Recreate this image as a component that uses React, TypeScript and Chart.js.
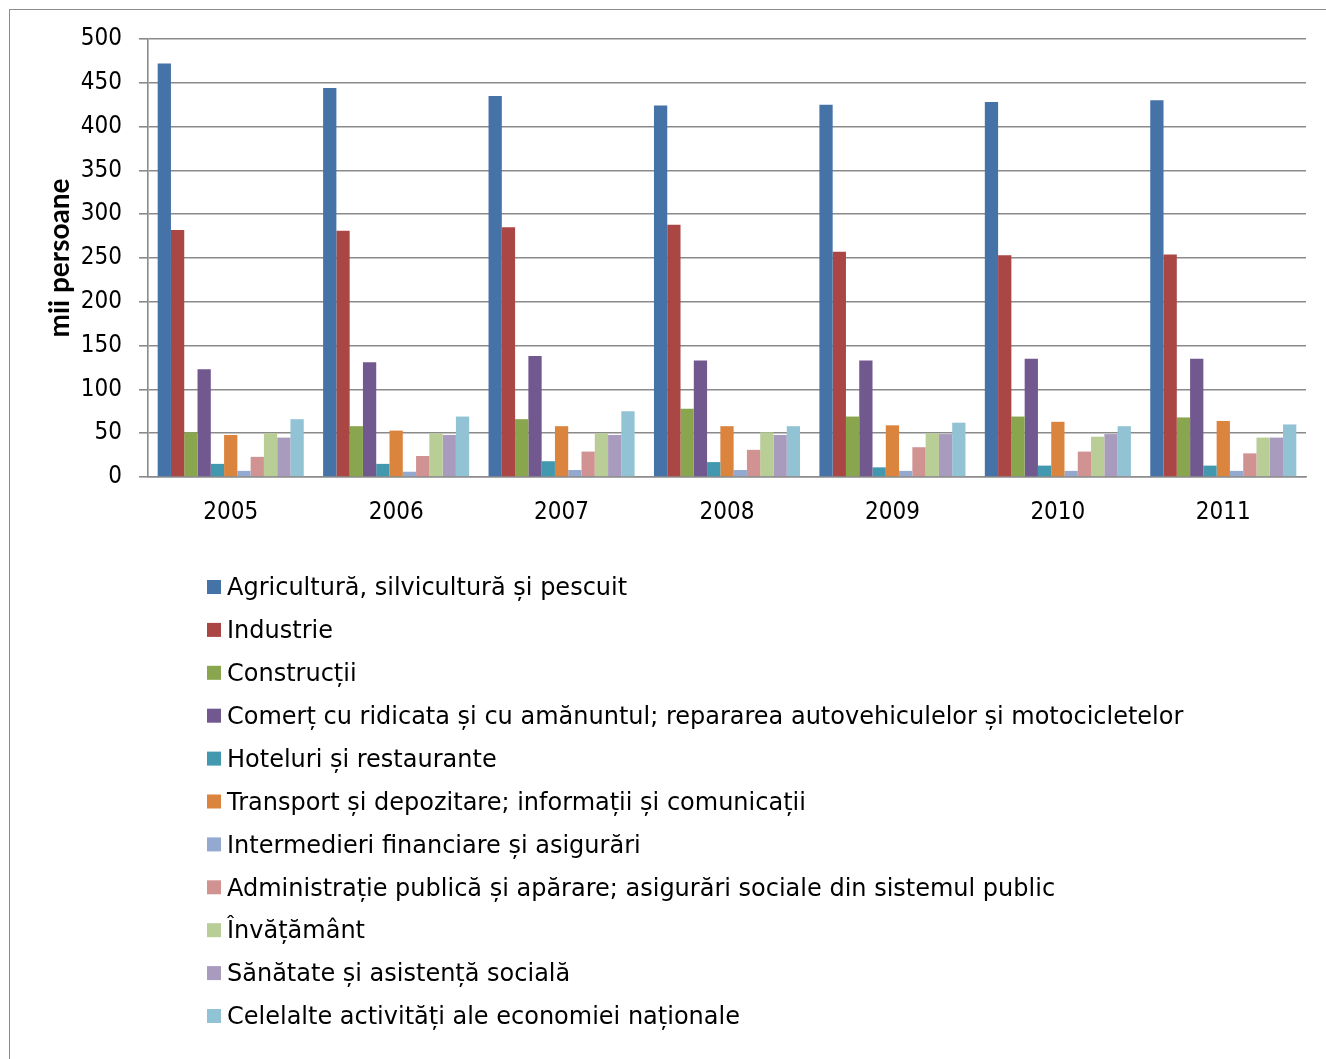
import React, { useEffect, useRef } from "react";
import { Chart, registerables } from "chart.js";

Chart.register(...registerables);

const years = ["2005", "2006", "2007", "2008", "2009", "2010", "2011"];

const seriesNames = [
  "Agricultură, silvicultură și pescuit",
  "Industrie",
  "Construcții",
  "Comerț cu ridicata și cu amănuntul; repararea autovehiculelor și motocicletelor",
  "Hoteluri și restaurante",
  "Transport și depozitare; informații și comunicații",
  "Intermedieri financiare și asigurări",
  "Administrație publică și apărare; asigurări sociale din sistemul public",
  "Învățământ",
  "Sănătate și asistență socială",
  "Celelalte activități ale economiei naționale",
];

const agricultura = [472, 444, 435, 424, 425, 428, 430];
const industrie = [282, 281, 285, 288, 257, 253, 254];
const constructii = [51, 58, 66, 78, 69, 69, 68];
const comert = [123, 131, 138, 133, 133, 135, 135];
const hoteluri = [15, 15, 18, 17, 11, 13, 13];
const transport = [48, 53, 58, 58, 59, 63, 64];
const financiare = [7, 6, 8, 8, 7, 7, 7];
const administratie = [23, 24, 29, 31, 34, 29, 27];
const invatamant = [50, 50, 50, 51, 50, 46, 45];
const sanatate = [45, 48, 48, 48, 49, 49, 45];
const celelalte = [66, 69, 75, 58, 62, 58, 60];

const seriesValues = [
  agricultura, industrie, constructii, comert, hoteluri, transport,
  financiare, administratie, invatamant, sanatate, celelalte,
];

const colors = [
  "#4573A7", "#AA4643", "#89A54E", "#71588F", "#4198AF", "#DB843D",
  "#93A9CF", "#D19392", "#B9CD96", "#A99BBD", "#92C3D4",
];

const yTitle = "mii persoane";
const TICK_FONT = "'DejaVu Sans Condensed', 'DejaVu Sans', sans-serif";
const LEGEND_FONT = "'DejaVu Sans', sans-serif";

const legendPlugin = {
  id: "listLegend",
  afterDraw(chart: any) {
    const ctx = chart.ctx;
    ctx.save();
    ctx.font = `24px ${LEGEND_FONT}`;
    ctx.textBaseline = "middle";
    ctx.textAlign = "left";
    chart.data.datasets.forEach((ds: any, i: number) => {
      const yc = 587 + i * 42.9;
      ctx.fillStyle = ds.backgroundColor;
      ctx.fillRect(207, yc - 7, 14, 14);
      ctx.fillStyle = "#000";
      ctx.fillText(ds.label, 227, yc + 2);
    });
    ctx.restore();
  },
};

export default function App() {
  const ref = useRef<HTMLCanvasElement>(null);
  useEffect(() => {
    if (!ref.current) return;
    const chart = new Chart(ref.current, {
      type: "bar",
      data: {
        labels: years,
        datasets: seriesNames.map((name, i) => ({
          label: name,
          data: seriesValues[i],
          backgroundColor: colors[i],
          borderWidth: 0,
          barPercentage: 1,
          categoryPercentage: 0.883,
        })),
      },
      options: {
        animation: false,
        responsive: true,
        maintainAspectRatio: false,
        layout: { padding: { left: 0, right: 20, top: 39, bottom: 522 } },
        plugins: { legend: { display: false }, tooltip: { enabled: false } },
        scales: {
          x: {
            grid: { display: false, drawTicks: false },
            border: { display: true, color: "#8c8c8c", width: 1.5 },
            ticks: { color: "#000", font: { family: TICK_FONT, size: 24 }, padding: 21 },
            afterFit: (s: any) => { s.height = 60; },
          },
          y: {
            min: 0,
            max: 500,
            ticks: { stepSize: 50, color: "#000", font: { family: TICK_FONT, size: 24 }, padding: 17 },
            grid: { color: "#8a8a8a", lineWidth: 1.6, tickLength: 9 },
            border: { display: true, color: "#8a8a8a", width: 1.6 },
            title: {
              display: true,
              text: yTitle,
              color: "#000",
              font: { family: "Lato, 'Open Sans', sans-serif", size: 28, weight: "bold" },
              padding: { top: 43, bottom: 0 },
            },
            afterFit: (s: any) => { s.width = 148; },
          },
        },
      },
      plugins: [legendPlugin],
    });
    return () => chart.destroy();
  }, []);
  return (
    <div style={{ position: "absolute", left: 0, top: 0, width: 1326, height: 1059, background: "#fff" }}>
      <div style={{ position: "absolute", left: 9, top: 9, width: 1330, height: 1100, border: "1px solid #8c8c8c", boxSizing: "border-box" }} />
      <div style={{ position: "absolute", left: 0, top: 0, width: 1326, height: 1059 }}>
        <canvas ref={ref} />
      </div>
    </div>
  );
}
